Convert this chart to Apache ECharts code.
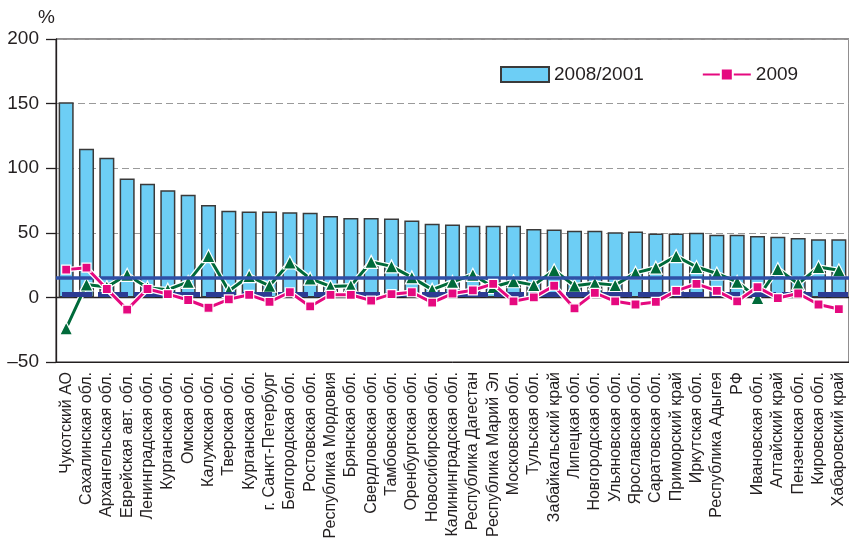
<!DOCTYPE html>
<html>
  <head>
    <meta charset="utf-8">
    <script src="https://cdn.jsdelivr.net/npm/echarts@6.0.0/dist/echarts.min.js"></script>
    <style>
      html, body { margin: 0; padding: 0; background: #fff; }
      #chart { width: 849px; height: 550px; }
    </style>
  </head>
  <body>
    <div id="chart"></div>
    <script>
      // регионы (подписи оси X)
      const regions = [
        'Чукотский АО', 'Сахалинская обл.', 'Архангельская обл.', 'Еврейская авт. обл.',
        'Ленинградская обл.', 'Курганская обл.', 'Омская обл.', 'Калужская обл.',
        'Тверская обл.', 'Курганская обл.', 'г. Санкт-Петербург', 'Белгородская обл.',
        'Ростовская обл.', 'Республика Мордовия', 'Брянская обл.', 'Свердловская обл.',
        'Тамбовская обл.', 'Оренбургская обл.', 'Новосибирская обл.', 'Калининградская обл.',
        'Республика Дагестан', 'Республика Марий Эл', 'Московская обл.', 'Тульская обл.',
        'Забайкальский край', 'Липецкая обл.', 'Новгородская обл.', 'Ульяновская обл.',
        'Ярославская обл.', 'Саратовская обл.', 'Приморский край', 'Иркутская обл.',
        'Республика Адыгея', 'РФ', 'Ивановская обл.', 'Алтайский край',
        'Пензенская обл.', 'Кировская обл.', 'Хабаровский край'
      ];
      // 2008/2001, %
      const growth2008 = [
        151, 115, 108, 92, 88, 83, 79.5, 71.5, 67, 66.5, 66.5, 66, 65.5, 63, 61.5, 61.5,
        61, 59.5, 57, 56.5, 55.5, 55.5, 55.5, 53, 52.5, 51.5, 51.5, 50.5, 51, 49.5,
        49.5, 50, 48.5, 48.5, 47.5, 47, 46, 45, 45
      ];
      // 2009, %
      const values2009 = [
        21.5, 23, 6.5, -9.5, 6.5, 2.5, -2, -8, -1.5, 2, -3.5, 4, -7, 2, 2, -2.5,
        2.5, 4, -4, 3, 5.5, 10.5, -3, 0, 9, -8.5, 3.5, -3, -5.5, -3.5,
        5, 10.5, 5, -3, 8, -0.5, 3, -5.5, -9
      ];
      // третий ряд (зелёные треугольники)
      const valuesGreen = [
        -24, 10, 8, 17.5, 7.5, 6, 12, 32, 5, 16.5, 9, 27, 14.5, 8.5, 9, 27.5,
        24, 15.5, 6, 12, 17.5, 8, 12.5, 9.5, 21, 9, 11, 9.5, 19, 23,
        32, 23.5, 18.5, 12, -0.5, 22, 10.5, 23.5, 21
      ];
      // горизонтальные уровни
      const levelSolid = 15;
      const levelDashed = 2.5;
      const yTicks = { min: -50, max: 200, interval: 50 };

      const font = '"Liberation Sans", Arial, sans-serif';
      const ink = '#231f20';
      const chart = echarts.init(document.getElementById('chart'), null, { renderer: 'canvas' });

      // белая подложка под линией
      const halo = (data, z) => ({
        type: 'line', data, z, silent: true, symbol: 'none',
        lineStyle: { color: '#fff', width: 5.5 }
      });

      chart.setOption({
        animation: false,
        textStyle: { fontFamily: font, color: ink },
        title: {
          text: '%', left: 33, top: 3,
          textStyle: { fontFamily: font, fontSize: 19, fontWeight: 'normal', color: ink }
        },
        grid: {
          left: 56, top: 39, width: 797, height: 323,
          show: true, borderColor: ink, borderWidth: 1, backgroundColor: 'transparent'
        },
        legend: {
          left: 495, top: 60,
          itemWidth: 48, itemHeight: 15, itemGap: 58,
          textStyle: { fontFamily: font, fontSize: 19, color: ink },
          data: [{ name: '2008/2001', icon: 'rect' }, '2009']
        },
        xAxis: [{
          type: 'category', data: regions, position: 'bottom',
          axisLine: { onZero: false, lineStyle: { color: ink, width: 1 } },
          axisTick: { show: false },
          axisLabel: { rotate: 90, interval: 0, fontSize: 16, margin: 10, color: ink, fontFamily: font }
        }, {
          type: 'category', data: regions, position: 'top',
          axisLine: { onZero: true, lineStyle: { color: ink, width: 1.3 } },
          axisTick: { show: false },
          axisLabel: { show: false }
        }],
        yAxis: {
          type: 'value', min: yTicks.min, max: yTicks.max, interval: yTicks.interval,
          axisLine: { show: true, lineStyle: { color: ink, width: 1.3 } },
          axisTick: { show: true, length: 10, lineStyle: { color: ink, width: 1.3 } },
          axisLabel: {
            fontSize: 19, margin: 17, color: ink, fontFamily: font,
            formatter: v => String(v).replace('-', '–')
          },
          splitLine: { lineStyle: { color: '#9a9a9a', type: [7, 4], width: 1 } }
        },
        series: [{
          name: '2008/2001',
          type: 'bar',
          data: growth2008,
          barCategoryGap: '26%',
          itemStyle: { color: '#6dcef5', borderColor: '#3a3a3a', borderWidth: 1.5 }
        },
        halo(valuesGreen, 3),
        {
          name: 'green',
          type: 'line',
          z: 4,
          data: valuesGreen,
          symbol: 'triangle',
          symbolSize: 13,
          lineStyle: { color: '#006a3a', width: 3 },
          itemStyle: { color: '#006a3a', borderColor: '#fff', borderWidth: 1.2 }
        },
        halo(values2009, 5),
        {
          name: '2009',
          type: 'line',
          z: 6,
          data: values2009,
          symbol: 'rect',
          symbolSize: 9,
          lineStyle: { color: '#e5097f', width: 3 },
          itemStyle: { color: '#e5097f', borderColor: '#fff', borderWidth: 1.2 }
        },
        {
          name: 'levels',
          type: 'line',
          z: 7,
          data: [],
          markLine: {
            silent: true,
            symbol: 'none',
            label: { show: false },
            data: [
              { yAxis: levelSolid, lineStyle: { color: '#2f4fa6', width: 3.5, type: 'solid' } },
              { yAxis: levelDashed, lineStyle: { color: '#2b3b93', width: 5, type: [30, 6], dashOffset: 30 } }
            ]
          }
        }]
      });
    </script>
  </body>
</html>
